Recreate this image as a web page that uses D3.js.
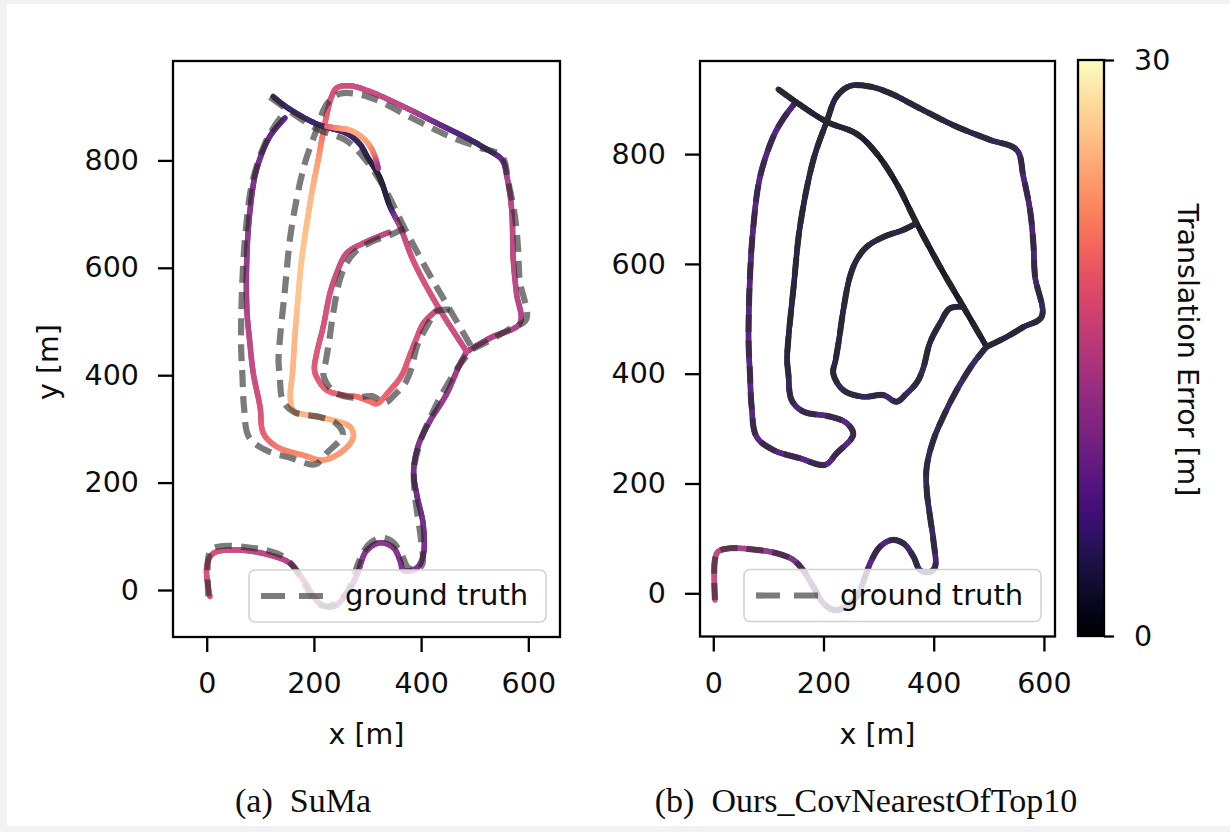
<!DOCTYPE html>
<html>
<head>
<meta charset="utf-8">
<title>KITTI 00 trajectories: SuMa vs Ours</title>
<script src="https://d3js.org/d3.v7.min.js"></script>
<style>
  body { margin: 0; background: #f2f2f2; }
  svg text { font-family: "DejaVu Sans", sans-serif; fill: #0d0d0d; }
  .caption { font-family: "Liberation Serif", "Times New Roman", serif; font-size: 34px; white-space: pre; }
</style>
</head>
<body>
<svg id="fig" width="1230" height="832"></svg>
<script>
// ---------- data (metres) ----------
const xTicks = [0, 200, 400, 600];
const yTicks = [0, 200, 400, 600, 800];
const cbarDomain = [0, 30];
const cbarTicks = [0, 30];

// ground truth, split at the road junctions
const gtSouth = [[3,-12],[3,61],[9,76],[30,82],[79,79],[115,73],[145,61],[163,42],[181.5,12],[199.7,-18],
  [217.8,-30],[236,-27],[260.3,-6],[275.4,30],[287.5,61],[302.6,85],[324,97],[345,91],[363.2,67],[375.3,42],
  [393.4,39],[402.4,48],[399.4,97],[393.4,139],[387.3,188],[387.3,230],[399.4,279],[417.5,322],[441.7,370],[472,419],
  [496,449]];
const gtEast = [[496,449],[532.4,467],[562.7,485],[596,504],[583.9,577],[580.8,638],[574.8,698],[562.7,759],[550.6,807.6],[502,826],
  [441.6,850],[381,880],[320.7,911],[284.4,923],[248,924],[223.8,904.6],[205.7,859],[181.5,789],[157.3,668],[146,560],
  [136,461],[134,425],[136.2,400],[142.2,352],[163.4,331],[211.7,322],[242,310],[254,289],[223.8,255],[202.7,234],
  [157.3,246],[109,261],[78.7,285],[69.6,340],[66.6,400],[64,461],[66.6,577],[72.6,667],[84.7,758],[109,832],
  [128,866],[150,895]];
const gtDiagonal = [[118,918],[150,895],[205.7,859],[260,837],[296.5,801],[332.8,746],[369,674],[411.4,595],[453.7,522],[496,449]];
const gtInner = [[369,674],[344.9,662],[308.6,649],[278.3,631],[260,607],[248,577],[236,516],[228,461],[222,425],[217.8,400],
  [236,370],[272.3,358],[308.6,361],[332.8,349],[351,364],[370,385],[381,410],[393,456],[411.4,492],[429.5,519],
  [453.7,522]];

// Ours: lies on the ground truth, translation error [m] per point
const oursErrSouth = [16,16,15,14,13,11,10,9,9,9, 9,8,8,8,7,6,6,5,5,5, 6,6,5,4,4,4,4,4,5,5, 4];
const oursErrEast = [3,3,3,4,5,6,6,6,5,4, 3,3,3,3,3,3,3,3,3,3, 3,3,4,5,6,7,7,7,7,7, 7,7,7,7,7,7,7,7,7,7, 6,6];
const oursErrDiagonal = [3,2,2,2,1,1,1,1,1,2];
const oursErrInner = [2,3,3,3,3,3,3,3,3,3, 4,4,5,5,5,4,4,3,3,3, 2];

// SuMa estimate: [x, y, error]
const sumaSouth = [[6,-12,17],[0,43,17],[12,68,17],[56,74.5,16],[118,65,15],[155,50,14],[180,19,13],[211,-25,12],[236,-31,12],[261,-7,11],
  [280,28,11],[298,73,11],[323,88,11],[348,79,11],[361,54,10],[367,36,10],[392,41,10],[404,65,10],[404,121,9],[392,177,9],
  [386,221,9],[395,270,10],[416,314,11],[447,364,12],[472,420,13],[485,444,13]];
const sumaEast = [[485,444,13],[530,470,14],[584.5,497,14],[578,552,15],[572,614,15],[569,708,15],[560,770,14],[551,801,9],[520,822,5],[492.5,838,5],
  [430,869,8],[367.5,900,15],[305,928,16],[267.5,939,16],[242.5,935,17],[233,919,17],[226,894,18],[217,851,20],[208,801,23],[196,739,25],
  [177,614,26],[170,540,26],[164,465,25],[160,403,25],[156,360,25],[162,334,25],[193,325,25],[236,316,25],[267.5,304,24],[273.6,285,24],
  [255,260,23],[217.5,242,23],[180,251,22],[130.5,267,21],[105.7,292,19],[99.5,341,17],[87,403,16],[80,465,15],[75,521,14],[74.6,614,12],
  [80.8,707,11],[93,783,10],[118,845,8],[146,879,7]];
const sumaDiagonal = [[124,919,4],[148,900,5],[205,868,5],[262,850,5],[286,830,4],[300,806,3],[322,770,2],[342,714,3],[361,676,15],[385,614,17],
  [430,530,17],[485,444,16]];
const sumaArc = [[224,863,18],[245,860,22],[268,856,24],[290,843,24],[305,826,23],[314,807,20],[320,785,12]];
const sumaInner = [[340,666,15],[292.5,646,16],[261,627,16],[242.5,590,16],[230,553,17],[217.5,491,17],[205,440,18],[201,410,18],[207,393,18],[224,372,19],
  [255,363,19],[280,360,20],[305,351,20],[317,347,20],[342,372,19],[364,400,18],[378,435,18],[390,465,17],[404.5,497,17],[429,521,16]];

// ---------- build ----------
const groundTruth = [gtSouth, gtEast, gtDiagonal, gtInner];
const zipErr = (pts, errs) => pts.map((p, i) => [p[0], p[1], errs[i]]);
const oursTracks = [zipErr(gtSouth, oursErrSouth), zipErr(gtEast, oursErrEast),
  zipErr(gtDiagonal, oursErrDiagonal), zipErr(gtInner, oursErrInner)];
const sumaTracks = [sumaSouth, sumaEast, sumaDiagonal, sumaArc, sumaInner];

const svg = d3.select("#fig");
svg.append("rect").attr("width", 1230).attr("height", 832).attr("fill", "#f2f2f2");
svg.append("rect").attr("x", 7).attr("y", 4).attr("width", 1223).attr("height", 822).attr("fill", "#fff");

const errColor = d3.scaleSequential(d3.interpolateMagma).domain(cbarDomain);
const smooth = d3.line().curve(d3.curveCatmullRom.alpha(0.5));
const defs = svg.append("defs");
const fontSize = 28.5;

const panels = [
  { id: "a", frame: { x0: 173, x1: 560, y0: 61, y1: 637 }, xDom: [-62.9, 659.1], yDom: [-87.5, 985.1],
    tracks: sumaTracks, yLabel: true, caption: "(a)  SuMa", capX: 303 },
  { id: "b", frame: { x0: 700, x1: 1055, y0: 61, y1: 636.5 }, xDom: [-24.1, 620.1], yDom: [-78.7, 969.6],
    tracks: oursTracks, yLabel: false, caption: "(b)  Ours_CovNearestOfTop10", capX: 866 }
];

// sample a smoothed track into short pieces, each with its own error value
function sampleTrack(track, xs, ys) {
  const px = track.map(p => [xs(p[0]), ys(p[1]), p[2]]);
  const tmp = svg.append("path").attr("d", smooth(px));
  const node = tmp.node();
  const total = node.getTotalLength();
  const cum = [0];
  for (let i = 1; i < px.length; i++) {
    cum.push(cum[i - 1] + Math.hypot(px[i][0] - px[i - 1][0], px[i][1] - px[i - 1][1]));
  }
  const L = cum[cum.length - 1];
  const errAt = d3.scaleLinear().domain(cum).range(px.map(p => p[2])).clamp(true);
  const n = Math.max(2, Math.ceil(total / 2));
  const out = d3.range(n + 1).map(i => {
    const s = total * i / n;
    const pt = node.getPointAtLength(s);
    return [pt.x, pt.y, errAt(s / total * L)];
  });
  tmp.remove();
  return out;
}

panels.forEach(p => {
  const f = p.frame;
  const xs = d3.scaleLinear().domain(p.xDom).range([f.x0, f.x1]);
  const ys = d3.scaleLinear().domain(p.yDom).range([f.y1, f.y0]);

  defs.append("clipPath").attr("id", "clip-" + p.id)
    .append("rect").attr("x", f.x0).attr("y", f.y0).attr("width", f.x1 - f.x0).attr("height", f.y1 - f.y0);

  const plot = svg.append("g").attr("clip-path", `url(#clip-${p.id})`);

  // estimated trajectory coloured by error
  const est = plot.append("g").attr("opacity", 0.9);
  p.tracks.forEach(track => {
    const samples = sampleTrack(track, xs, ys);
    est.append("g").selectAll("line").data(d3.pairs(samples)).join("line")
      .attr("x1", d => d[0][0]).attr("y1", d => d[0][1])
      .attr("x2", d => d[1][0]).attr("y2", d => d[1][1])
      .attr("stroke", d => errColor((d[0][2] + d[1][2]) / 2))
      .attr("stroke-width", 5.5)
      .attr("stroke-linecap", "round");
  });

  // ground truth dashed on top
  plot.append("g").selectAll("path").data(groundTruth).join("path")
    .attr("d", d => smooth(d.map(q => [xs(q[0]), ys(q[1])])))
    .attr("fill", "none")
    .attr("stroke", "#2a2a2a")
    .attr("stroke-opacity", 0.62)
    .attr("stroke-width", 6.2)
    .attr("stroke-dasharray", "17 9");

  // legend (lower right)
  const lw = 297, lh = 52;
  const lx = f.x1 - 14 - lw, ly = f.y1 - 15 - lh;
  const leg = svg.append("g");
  leg.append("rect").attr("x", lx).attr("y", ly).attr("width", lw).attr("height", lh).attr("rx", 6)
    .attr("fill", "#fff").attr("fill-opacity", 0.8).attr("stroke", "#d2d2d2").attr("stroke-width", 1.6);
  leg.append("line").attr("x1", lx + 12).attr("x2", lx + 74).attr("y1", ly + lh / 2).attr("y2", ly + lh / 2)
    .attr("stroke", "#2a2a2a").attr("stroke-opacity", 0.62).attr("stroke-width", 6.2).attr("stroke-dasharray", "24 14");
  leg.append("text").attr("x", lx + 96).attr("y", ly + lh / 2 + 9).attr("font-size", 29).text("ground truth");

  // frame
  svg.append("rect").attr("x", f.x0).attr("y", f.y0).attr("width", f.x1 - f.x0).attr("height", f.y1 - f.y0)
    .attr("fill", "none").attr("stroke", "#000").attr("stroke-width", 2.3);

  // axes
  const styleAxis = a => {
    a.select(".domain").remove();
    a.attr("font-family", "DejaVu Sans").attr("font-size", fontSize);
    a.selectAll("line").attr("stroke", "#000").attr("stroke-width", 2.3);
    a.selectAll("text").attr("fill", "#0d0d0d");
  };
  svg.append("g").attr("transform", `translate(0,${f.y1})`)
    .call(d3.axisBottom(xs).tickValues(xTicks).tickSize(15).tickPadding(21).tickFormat(d3.format("d")))
    .call(styleAxis);
  svg.append("g").attr("transform", `translate(${f.x0},0)`)
    .call(d3.axisLeft(ys).tickValues(yTicks).tickSize(15).tickPadding(19).tickFormat(d3.format("d")))
    .call(styleAxis);

  svg.append("text").attr("x", (f.x0 + f.x1) / 2).attr("y", 744).attr("text-anchor", "middle")
    .attr("font-size", fontSize).text("x [m]");
  if (p.yLabel) {
    svg.append("text").attr("transform", "translate(48,362) rotate(-90)").attr("text-anchor", "middle")
      .attr("dominant-baseline", "central").attr("font-size", fontSize).text("y [m]");
  }
  svg.append("text").attr("class", "caption").attr("x", p.capX).attr("y", 812)
    .attr("text-anchor", "middle").text(p.caption);
});

// ---------- colorbar ----------
const cb = { x0: 1078, x1: 1104, y0: 60, y1: 636 };
const cbScale = d3.scaleLinear().domain(cbarDomain).range([cb.y1, cb.y0]);
const grad = defs.append("linearGradient").attr("id", "magma")
  .attr("x1", 0).attr("y1", 1).attr("x2", 0).attr("y2", 0);
grad.selectAll("stop").data(d3.range(0, 1.0001, 0.02)).join("stop")
  .attr("offset", d => d).attr("stop-color", d => d3.interpolateMagma(d));
svg.append("rect").attr("x", cb.x0).attr("y", cb.y0).attr("width", cb.x1 - cb.x0).attr("height", cb.y1 - cb.y0)
  .attr("fill", "url(#magma)").attr("stroke", "#000").attr("stroke-width", 2.3);
svg.append("g").attr("transform", `translate(${cb.x1},0)`)
  .call(d3.axisRight(cbScale).tickValues(cbarTicks).tickSize(10).tickPadding(20))
  .call(a => {
    a.select(".domain").remove();
    a.attr("font-family", "DejaVu Sans").attr("font-size", fontSize);
    a.selectAll("line").attr("stroke", "#000").attr("stroke-width", 2.3);
    a.selectAll("text").attr("fill", "#0d0d0d");
  });
svg.append("text").attr("transform", "translate(1187,350) rotate(90)").attr("text-anchor", "middle")
  .attr("dominant-baseline", "central").attr("font-size", fontSize).text("Translation Error [m]");
</script>
</body>
</html>
